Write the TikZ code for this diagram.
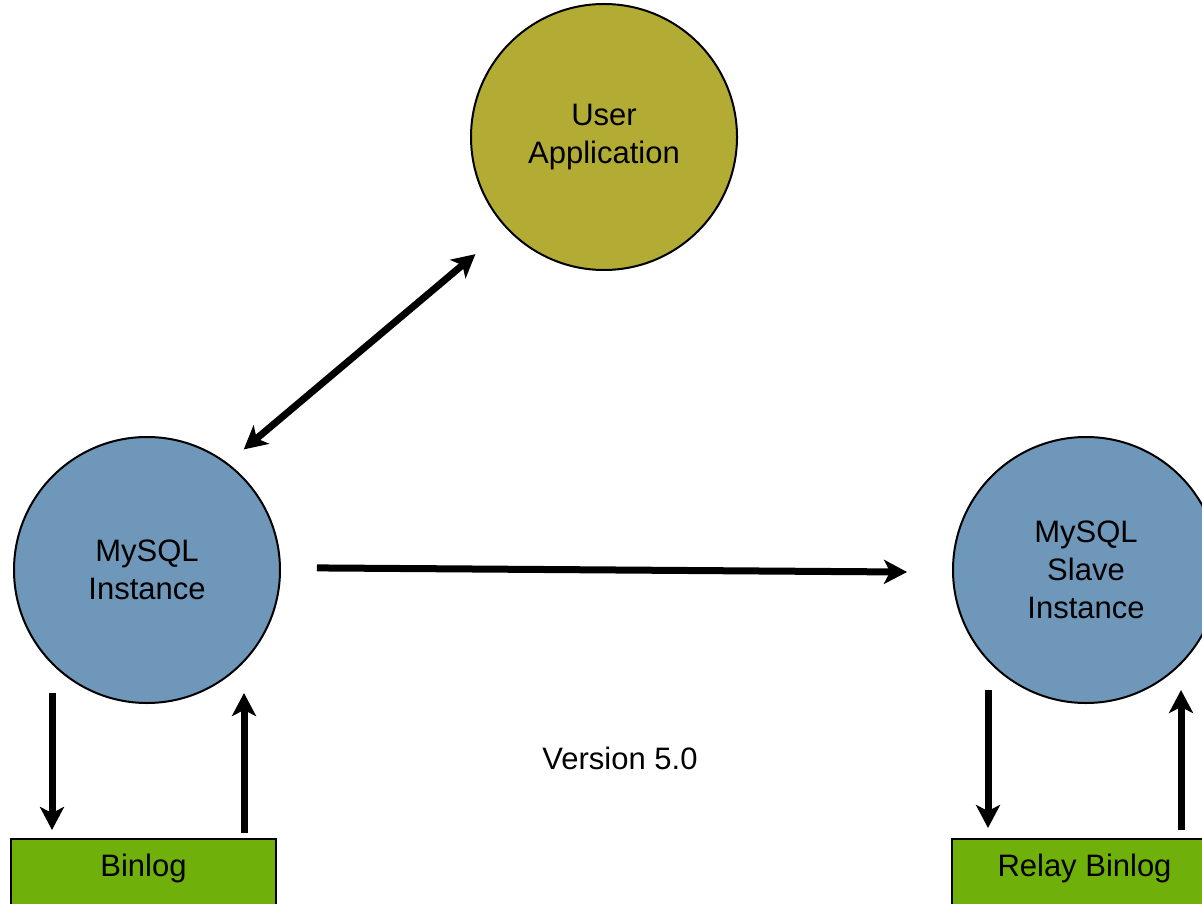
\documentclass[tikz,border=0pt]{standalone}
\usepackage{fontspec}
\setmainfont{Liberation Sans}
\usetikzlibrary{arrows.meta,positioning,calc}
\definecolor{appolive}{HTML}{B3AC34}
\definecolor{dbblue}{HTML}{6F97B9}
\definecolor{loggreen}{HTML}{70B00A}

\begin{document}
\begin{tikzpicture}[x=0.5pt,y=-0.5pt,
  every node/.style={font=\fontsize{15.5}{19}\selectfont},
  db/.style={circle,draw=black,line width=1pt,minimum size=133pt,align=center,inner sep=0pt},
  logbox/.style={rectangle,draw=black,line width=1pt,fill=loggreen,anchor=north,minimum width=132.5pt,
    inner ysep=0pt,text height=18.5pt,text depth=21.5pt},
  arr/.style={line width=3.5pt,-{Stealth[length=11.5pt,width=12pt,inset=3pt]}},
  biarr/.style={line width=3.5pt,{Stealth[length=11.5pt,width=12pt,inset=3pt]}-{Stealth[length=11.5pt,width=12pt,inset=3pt]}}]
\useasboundingbox (0,0) rectangle (1202,903);
\clip (0,0) rectangle (1202,903);
\node[db,fill=appolive] (user) at (604,137) {User\\Application};
\node[db,fill=dbblue] (mysql) at (147,570) {MySQL\\Instance};
\node[db,fill=dbblue] (slave) at (1086,570) {MySQL\\Slave\\Instance};
\node[logbox] (binlog) at (143.5,838) {Binlog};
\node[logbox] (relay) at (1084.5,838) {Relay Binlog};
\node (version) at (620,758) {Version 5.0};
% client <-> master
\draw[biarr,shorten <=10.5pt,shorten >=20pt] (mysql.53) -- (user.223);
% master -> slave
\draw[arr,shorten <=18pt,shorten >=22.5pt] (mysql.1) -- (slave.181);
% master <-> binlog
\draw[arr] ([xshift=-45.75pt,yshift=72.5pt]binlog.north) -- ([xshift=-45.75pt,yshift=4pt]binlog.north);
\draw[arr] ([xshift=50.25pt,yshift=2.5pt]binlog.north) -- ([xshift=50.25pt,yshift=72.5pt]binlog.north);
% slave <-> relay binlog
\draw[arr] ([xshift=-48.25pt,yshift=74pt]relay.north) -- ([xshift=-48.25pt,yshift=5pt]relay.north);
\draw[arr] ([xshift=48.25pt,yshift=4pt]relay.north) -- ([xshift=48.25pt,yshift=74pt]relay.north);
\end{tikzpicture}
\end{document}
